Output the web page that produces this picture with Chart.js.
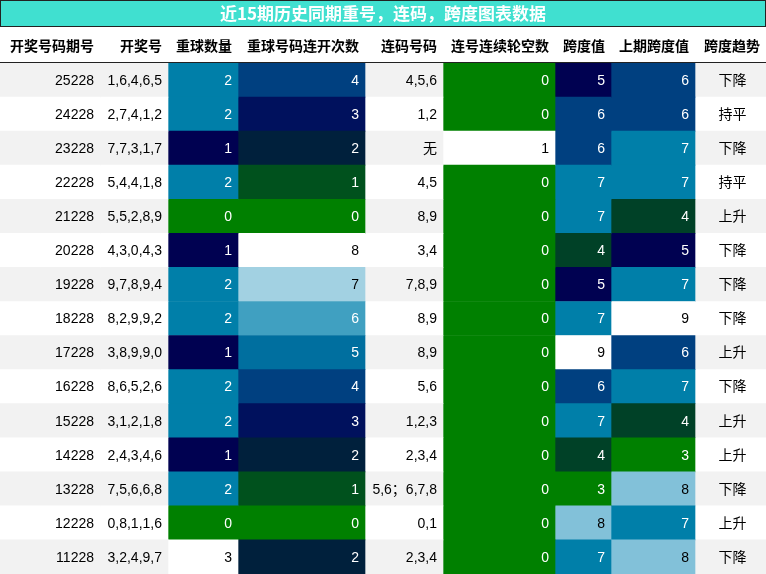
<!DOCTYPE html>
<html><head><meta charset="utf-8">
<script src="https://cdn.jsdelivr.net/npm/chart.js@4"></script>
<style>body{margin:0;background:#fff}#wrap{width:766px;height:574px}</style>
</head><body><div id="wrap"><canvas id="c"></canvas></div>
<script>
// data
const title = '近15期历史同期重号，连码，跨度图表数据';
const headers = ['开奖号码期号','开奖号','重球数量','重球号码连开次数','连码号码','连号连续轮空数','跨度值','上期跨度值','跨度趋势'];
const issues = ['25228','24228','23228','22228','21228','20228','19228','18228','17228','16228','15228','14228','13228','12228','11228'];
const draws = ['1,6,4,6,5','2,7,4,1,2','7,7,3,1,7','5,4,4,1,8','5,5,2,8,9','4,3,0,4,3','9,7,8,9,4','8,2,9,9,2','3,8,9,9,0','8,6,5,2,6','3,1,2,1,8','2,4,3,4,6','7,5,6,6,8','0,8,1,1,6','3,2,4,9,7'];
const repeatCount = [2,2,1,2,0,1,2,2,1,2,2,1,2,0,3];
const repeatRun = [4,3,2,1,0,8,7,6,5,4,3,2,1,0,2];
const consec = ['4,5,6','1,2','无','4,5','8,9','3,4','7,8,9','8,9','8,9','5,6','1,2,3','2,3,4','5,6；6,7,8','0,1','2,3,4'];
const consecGap = [0,0,1,0,0,0,0,0,0,0,0,0,0,0,0];
const span = [5,6,6,7,7,4,5,7,9,6,7,4,3,8,7];
const prevSpan = [6,6,7,7,4,5,7,9,6,7,4,3,8,7,8];
const trend = ['下降','持平','下降','持平','上升','下降','下降','下降','上升','下降','上升','上升','下降','上升','下降'];

// layout
const edges = [0,100,168,238,365,443,555,611,695,766];
const cols = [issues, draws, repeatCount, repeatRun, consec, consecGap, span, prevSpan, trend];
const heatCols = {2:true,3:true,5:true,6:true,7:true};
const stops = [[0,[0,128,0]],[0.17,[0,64,40]],[0.33,[0,0,80]],[0.5,[0,64,128]],[0.67,[0,128,170]],[0.83,[128,192,216]],[1,[255,255,255]]];
function cmap(t){
  for(let i=1;i<stops.length;i++){
    if(t<=stops[i][0]){
      const a=stops[i-1],b=stops[i],f=(t-a[0])/(b[0]-a[0]);
      return a[1].map((v,k)=>Math.round(v+(b[1][k]-v)*f));
    }
  }
  return stops[stops.length-1][1];
}
function cellColor(ci, v){
  const arr = cols[ci], mn = Math.min(...arr), mx = Math.max(...arr);
  return cmap(mx===mn?0:(v-mn)/(mx-mn));
}

const datasets = cols.map((col, ci) => ({
  data: issues.map(() => [edges[ci], edges[ci+1]]),
  backgroundColor: issues.map((_, ri) => {
    if (heatCols[ci]) { const c = cellColor(ci, col[ri]); return `rgb(${c})`; }
    return ri % 2 === 0 ? '#f2f2f2' : '#ffffff';
  }),
  borderWidth: 0, barPercentage: 1, categoryPercentage: 1, grouped: false
}));

const textPlugin = {
  id: 'tableText',
  afterDatasetsDraw(chart) {
    const ctx = chart.ctx, xs = chart.scales.x, ys = chart.scales.y;
    ctx.save();
    // title
    ctx.fillStyle = '#40e0d0';
    ctx.fillRect(0, 0, 766, 27);
    ctx.strokeStyle = '#222'; ctx.lineWidth = 1;
    ctx.strokeRect(0.5, 0.5, 765, 26);
    ctx.fillStyle = '#fff';
    ctx.font = 'bold 17px "Noto Sans CJK SC", sans-serif';
    ctx.textAlign = 'center'; ctx.textBaseline = 'middle';
    ctx.fillText(title, 383, 14);
    // header
    ctx.fillStyle = '#000';
    ctx.font = 'bold 14px "Noto Sans CJK SC", sans-serif';
    headers.forEach((h, ci) => {
      ctx.textAlign = 'right';
      ctx.fillText(h, xs.getPixelForValue(edges[ci+1]) - 6, 46);
    });
    ctx.beginPath(); ctx.moveTo(0, 62.5); ctx.lineTo(766, 62.5); ctx.stroke();
    // cells
    ctx.font = '14px "Liberation Sans", "Noto Sans CJK SC", sans-serif';
    cols.forEach((col, ci) => {
      col.forEach((v, ri) => {
        const y = ys.getPixelForValue(ri);
        let color = '#000';
        if (heatCols[ci]) {
          const c = cellColor(ci, v);
          color = (0.299*c[0] + 0.587*c[1] + 0.114*c[2]) < 140 ? '#fff' : '#000';
        }
        ctx.fillStyle = color;
        if (ci === 8) {
          ctx.textAlign = 'center';
          ctx.fillText(String(v), xs.getPixelForValue((edges[ci]+edges[ci+1])/2) + 2, y + 1);
        } else {
          ctx.textAlign = 'right';
          ctx.fillText(String(v), xs.getPixelForValue(edges[ci+1]) - 6, y + 1);
        }
      });
    });
    ctx.restore();
  }
};

new Chart(document.getElementById('c'), {
  type: 'bar',
  data: { labels: issues, datasets },
  options: {
    indexAxis: 'y', responsive: true, maintainAspectRatio: false, animation: false,
    layout: { padding: { top: 63, left: 0, right: 0, bottom: 0 } },
    scales: {
      x: { type: 'linear', min: 0, max: 766, display: false },
      y: { display: false }
    },
    plugins: { legend: { display: false }, tooltip: { enabled: false } }
  },
  plugins: [textPlugin]
});
</script></body></html>
